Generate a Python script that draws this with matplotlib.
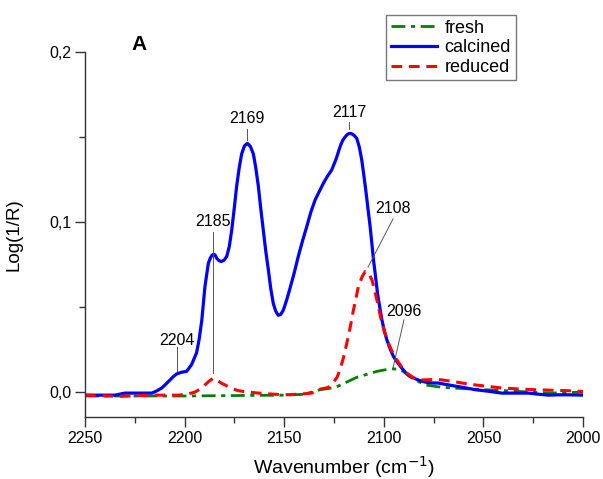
import matplotlib
matplotlib.use('Agg')
import matplotlib.pyplot as plt
from matplotlib.ticker import MultipleLocator, FuncFormatter

plt.rcParams['font.family'] = ['Liberation Sans', 'DejaVu Sans']

# DRIFT spectra of adsorbed CO, wavenumber (cm-1) vs Log(1/R)
calcined_wn = [2250, 2235, 2230, 2216.5, 2214, 2211.5, 2209.4, 2207.3, 2205.6, 2204,
               2201.5, 2199, 2196.5, 2194, 2192.7, 2191.4, 2189.8, 2188.1, 2187,
               2186.1, 2185.3, 2184.6, 2183.9, 2182.8, 2181.7, 2180.3, 2178.9, 2177.6,
               2176.4, 2175.1, 2173.9, 2172.6, 2171.4, 2170, 2168.5, 2167, 2165.5,
               2164.3, 2163, 2161.8, 2160.5, 2159.3, 2158, 2156.8, 2155.5, 2154.3,
               2153, 2151.8, 2150.5, 2148.8, 2147.1, 2145, 2142.9, 2140.8, 2138.7,
               2136.6, 2134.5, 2132.4, 2130.4, 2128.3, 2126.2, 2124, 2122, 2120.7,
               2119.5, 2118.4, 2117.3, 2116.3, 2115.5, 2114.5, 2113.6, 2112.3, 2111.1,
               2110, 2108.9, 2107.9, 2106.9, 2106, 2105.2, 2104.2, 2103.2, 2102.1,
               2101, 2099.8, 2098.5, 2096.8, 2095.2, 2093, 2091, 2088.9, 2086.8,
               2083, 2079.3, 2076, 2072.6, 2066, 2060, 2054, 2047, 2040.8, 2034,
               2027.4, 2022, 2017.4, 2012, 2007.4, 2000]
calcined = [-0.002, -0.002, -0.0008, -0.0008, 0.0005, 0.0022, 0.0045, 0.007, 0.009, 0.0105,
            0.0115, 0.012, 0.016, 0.023, 0.031, 0.042, 0.062, 0.0757, 0.079,
            0.0806, 0.081, 0.0803, 0.0786, 0.0773, 0.0767, 0.0774, 0.0796, 0.0855,
            0.095, 0.108, 0.121, 0.132, 0.140, 0.1448, 0.1463, 0.1445, 0.140,
            0.132, 0.121, 0.108, 0.095, 0.083, 0.072, 0.061, 0.052, 0.0475,
            0.045, 0.0455, 0.048, 0.054, 0.061, 0.070, 0.080, 0.089, 0.0973,
            0.106, 0.113, 0.118, 0.1227, 0.127, 0.1306, 0.137, 0.1443, 0.148,
            0.150, 0.1515, 0.1522, 0.152, 0.1515, 0.1505, 0.1492, 0.144, 0.1365,
            0.127, 0.117, 0.107, 0.0973, 0.087, 0.0776, 0.068, 0.058, 0.050,
            0.0424, 0.036, 0.0306, 0.025, 0.0208, 0.017, 0.0139, 0.011, 0.009,
            0.007, 0.0057, 0.0052, 0.0051, 0.0037, 0.0025, 0.0012, 0.0002, -0.0008, -0.0008,
            -0.0008, -0.0015, -0.002, -0.0018, -0.0018, -0.002]

reduced_wn = [2250, 2233, 2216.5, 2203, 2198, 2194.8, 2192.7, 2190.6, 2188, 2185.6,
              2183.3, 2181.5, 2179.7, 2176.5, 2173, 2168, 2163, 2156, 2149.6, 2142,
              2136.2, 2132, 2128, 2125.4, 2123.5, 2122, 2120.3, 2118.6, 2116.9, 2115.3,
              2114, 2112.8, 2111, 2109.4, 2108, 2107, 2106, 2104.7, 2103.5, 2102.2,
              2101, 2099.3, 2097.7, 2095.6, 2093.5, 2091, 2088.5, 2085.5, 2082.7,
              2079.3, 2075, 2071, 2064, 2057.6, 2049, 2040.8, 2032, 2024, 2016,
              2007.4, 2000]
reduced = [-0.002, -0.0027, -0.002, -0.002, -0.0012, -0.0002, 0.0013, 0.0031, 0.006, 0.008,
           0.0065, 0.005, 0.004, 0.002, 0.0006, -0.0002, -0.0008, -0.0014, -0.0018, -0.0014,
           -0.0008, 0.0015, 0.0025, 0.0055, 0.0085, 0.013, 0.020, 0.0286, 0.038, 0.048,
           0.055, 0.062, 0.0675, 0.0708, 0.0705, 0.0685, 0.0659, 0.060, 0.054, 0.047,
           0.0404, 0.034, 0.0286, 0.023, 0.0188, 0.0145, 0.011, 0.0085, 0.007,
           0.007, 0.0072, 0.007, 0.0058, 0.0045, 0.0033, 0.0022, 0.0016, 0.0012, 0.0009,
           0.0006, 0.0002]

fresh_wn = [2250, 2200, 2150, 2140, 2132, 2124.5, 2119, 2113.6, 2107.8, 2103.5, 2099,
            2096, 2094.4, 2092.3, 2090.2, 2087.7, 2084.3, 2079.3, 2072, 2066, 2057,
            2049.2, 2040, 2032.5, 2024, 2015.8, 2008, 2000]
fresh = [-0.0025, -0.0025, -0.002, -0.0015, 0.0012, 0.0025, 0.0055, 0.0085, 0.0105, 0.012, 0.013,
         0.0135, 0.0134, 0.013, 0.012, 0.0095, 0.007, 0.004, 0.0028, 0.0022, 0.0017,
         0.0012, 0.0007, 0.0002, -0.0004, -0.0008, -0.0005, -0.0002]

# peak labels: text, text position, leader line start and end (data units)
peak_labels = ['2204', '2185', '2169', '2117', '2108', '2096']
label_pos = [(2203.8, 0.030), (2185.7, 0.100), (2168.7, 0.161),
             (2117.5, 0.1645), (2095.4, 0.108), (2089.9, 0.047)]
leader_from = [(2203.8, 0.0265), (2185.9, 0.094), (2168.7, 0.155),
               (2117.5, 0.159), (2095.4, 0.1018), (2089.9, 0.0424)]
leader_to = [(2203.8, 0.0124), (2185.9, 0.011), (2168.7, 0.148),
             (2117.5, 0.1545), (2107.9, 0.0735), (2095.4, 0.0141)]

fig = plt.figure(figsize=(6.03, 4.79), dpi=100)
ax = fig.add_axes([0.141, 0.129, 0.826, 0.762])

line_kw = dict(solid_joinstyle='round', dash_joinstyle='round')
ax.plot(fresh_wn, fresh, color='#008000', lw=2.0, dashes=(5, 2, 1.5, 2), label='fresh', **line_kw)
ax.plot(calcined_wn, calcined, color='#0000ff', lw=2.3, label='calcined', **line_kw)
ax.plot(reduced_wn, reduced, color='#ff0000', lw=2.2, dashes=(3.5, 2.2), label='reduced', **line_kw)

for lab, tp, p0, p1 in zip(peak_labels, label_pos, leader_from, leader_to):
    ax.plot([p0[0], p1[0]], [p0[1], p1[1]], color='#555555', lw=0.7)
    ax.text(tp[0], tp[1], lab, fontsize=11.5, ha='center', va='center')

ax.set_xlim(2250, 2000)
ax.set_ylim(-0.015, 0.2)
ax.xaxis.set_major_locator(MultipleLocator(50))
ax.xaxis.set_minor_locator(MultipleLocator(25))
ax.yaxis.set_major_locator(MultipleLocator(0.1))
ax.yaxis.set_minor_locator(MultipleLocator(0.05))
ax.yaxis.set_major_formatter(FuncFormatter(lambda v, p: f'{v:.1f}'.replace('.', ',')))

for side in ['top', 'right']:
    ax.spines[side].set_visible(False)
for side in ['left', 'bottom']:
    ax.spines[side].set_color('#333333')
    ax.spines[side].set_linewidth(1.0)
ax.tick_params(which='major', direction='out', length=7, width=1, color='#333333',
               labelsize=11.5, pad=3)
ax.tick_params(which='minor', direction='out', length=4, width=1, color='#333333')

ax.set_xlabel('Wavenumber (cm$^{-1}$)', fontsize=14)
ax.set_ylabel('Log(1/R)', fontsize=13.5)
ax.xaxis.set_label_coords(0.52, -0.1)
ax.yaxis.set_label_coords(-0.125, 0.5)

fig.text(139 / 603, 1 - 44 / 479, 'A', fontsize=15, fontweight='bold',
         ha='center', va='center')

leg = ax.legend(loc='upper left', bbox_to_anchor=(386 / 603, 1 - 15 / 479),
                bbox_transform=fig.transFigure, fontsize=13, frameon=True,
                fancybox=False, handlelength=2.6, handletextpad=0.4,
                borderpad=0.25, labelspacing=0.15, borderaxespad=0)
leg.get_frame().set_edgecolor('#555555')
leg.get_frame().set_linewidth(1.0)

fig.savefig('out.png', dpi=100)
